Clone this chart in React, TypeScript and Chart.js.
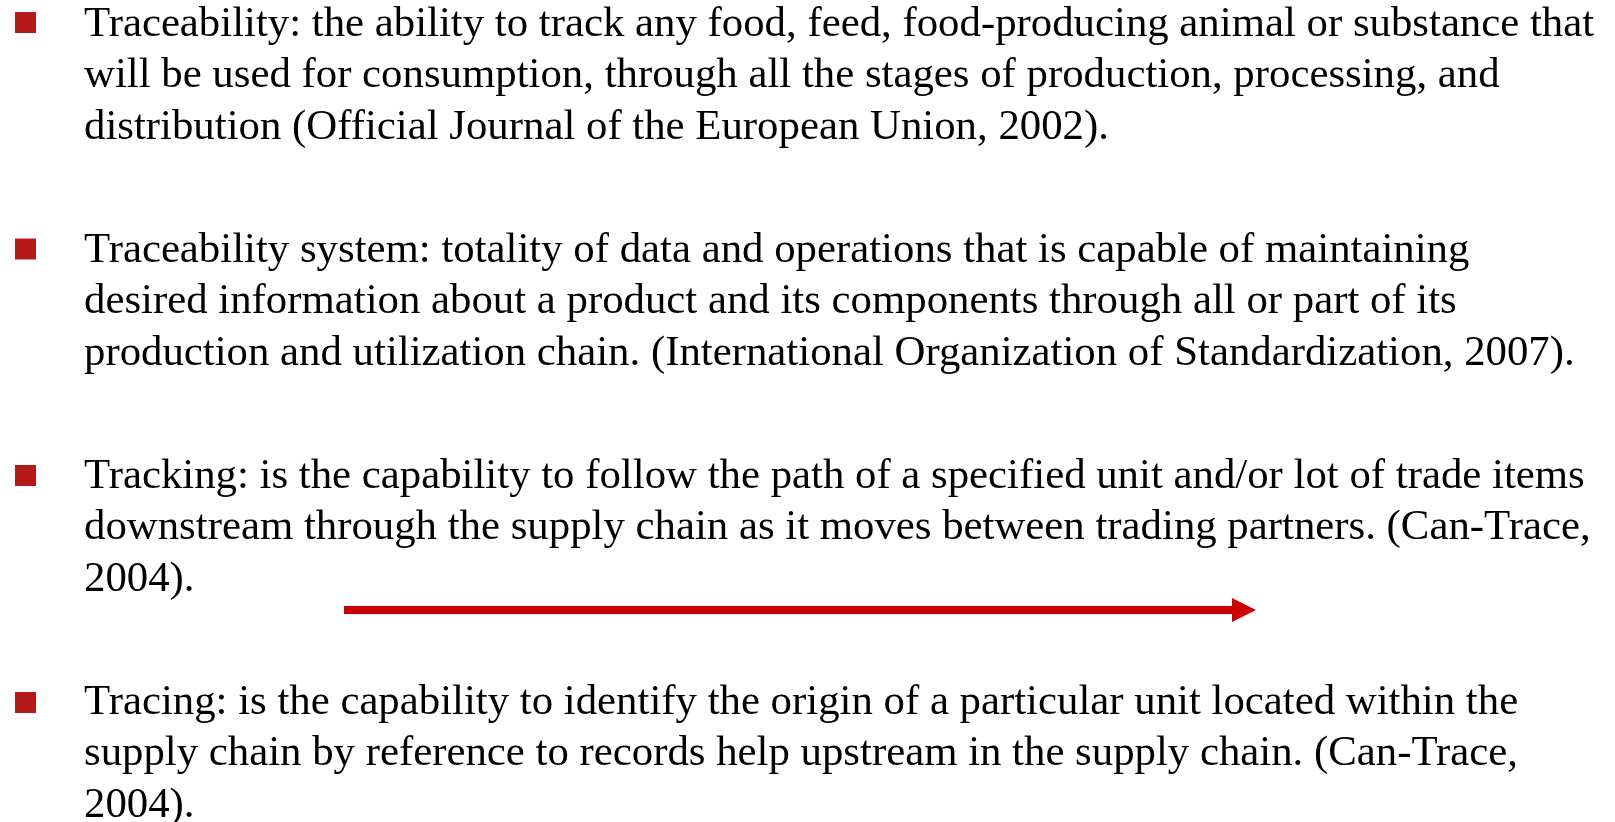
import React, { useEffect, useRef } from "react";
import { Chart, registerables } from "chart.js";

Chart.register(...registerables);

// ---- data ----
const blockTexts: string[][] = [
  [
    "Traceability: the ability to track any food, feed, food-producing animal or substance that",
    "will be used for consumption, through all the stages of production, processing, and",
    "distribution (Official Journal of the European Union, 2002).",
  ],
  [
    "Traceability system: totality of data and operations that is capable of maintaining",
    "desired information about a product and its components through all or part of its",
    "production and utilization chain. (International Organization of Standardization, 2007).",
  ],
  [
    "Tracking: is the capability to follow the path of a specified unit and/or lot of trade items",
    "downstream through the supply chain as it moves between trading partners. (Can-Trace,",
    "2004).",
  ],
  [
    "Tracing: is the capability to identify the origin of a particular unit located within the",
    "supply chain by reference to records help upstream in the supply chain. (Can-Trace,",
    "2004).",
  ],
];
const bulletX: number[] = [25.5, 25.5, 25.5, 25.5];
const bulletY: number[] = [22.5, 249, 475.5, 702.5];
const firstBaselines: number[] = [36, 262, 488, 714];
const arrowX: number[] = [344, 1256];
const arrowY: number[] = [610, 610];

const W = 1615;
const H = 822;
const FONT = 42.8;
const LINE = 51.5;
const TEXT_LEFT = 84;
const BULLET_SIDE = 21;
const BULLET_RADIUS = BULLET_SIDE / Math.SQRT2;
const HEAD_LEN = 24;
const HEAD_HALF = 12;
const SHAFT_WIDTH = 8;
const BULLET_COLOR = "#B41A1A";
const ARROW_COLOR = "#CC0000";

const arrowHeadPlugin = {
  id: "arrowHead",
  afterDatasetsDraw(chart: any) {
    const meta = chart.getDatasetMeta(1);
    if (!meta || !meta.data || meta.data.length < 2) return;
    const p0 = meta.data[0];
    const p1 = meta.data[meta.data.length - 1];
    const ang = Math.atan2(p1.y - p0.y, p1.x - p0.x);
    const ctx = chart.ctx;
    ctx.save();
    ctx.translate(p1.x, p1.y);
    ctx.rotate(ang);
    ctx.fillStyle = ARROW_COLOR;
    ctx.beginPath();
    ctx.moveTo(0, 0);
    ctx.lineTo(-HEAD_LEN, -HEAD_HALF);
    ctx.lineTo(-HEAD_LEN, HEAD_HALF);
    ctx.closePath();
    ctx.fill();
    ctx.restore();
  },
};

export default function App() {
  const ref = useRef<HTMLCanvasElement | null>(null);

  useEffect(() => {
    document.body.style.margin = "0";
    if (!ref.current) return;
    // Chart.js reserves padding equal to the largest point overflow; offset scales so
    // that values map 1:1 to page pixels.
    const P = Math.max(BULLET_RADIUS, SHAFT_WIDTH / 2);
    const chart = new Chart(ref.current, {
      type: "scatter",
      data: {
        datasets: [
          {
            label: "bullets",
            data: bulletX.map((x, i) => ({ x, y: bulletY[i] })),
            pointStyle: "rect",
            pointRadius: BULLET_RADIUS,
            pointHoverRadius: 0,
            pointBackgroundColor: BULLET_COLOR,
            pointBorderWidth: 0,
            pointBorderColor: BULLET_COLOR,
            showLine: false,
            clip: false,
          } as any,
          {
            label: "arrow",
            data: [
              { x: arrowX[0], y: arrowY[0] },
              { x: arrowX[1] - HEAD_LEN + 1, y: arrowY[1] },
              { x: arrowX[1], y: arrowY[1] },
            ],
            showLine: true,
            borderColor: ARROW_COLOR,
            borderWidth: SHAFT_WIDTH,
            borderCapStyle: "butt",
            pointRadius: 0,
            pointHoverRadius: 0,
            fill: false,
            clip: false,
            segment: {
              borderColor: (c: any) => (c.p1DataIndex === 2 ? "rgba(0,0,0,0)" : ARROW_COLOR),
            },
          } as any,
        ],
      },
      options: {
        animation: false,
        responsive: false,
        maintainAspectRatio: false,
        layout: { padding: 0 },
        plugins: {
          legend: { display: false },
          tooltip: { enabled: false },
          title: { display: false },
        },
        events: [],
        scales: {
          x: { type: "linear", min: P, max: W - P, display: false },
          y: { type: "linear", min: P, max: H - P, reverse: true, display: false },
        },
      },
      plugins: [arrowHeadPlugin],
    });
    return () => chart.destroy();
  }, []);

  const baselineOffset = (LINE - 1.107 * FONT) / 2 + 0.891 * FONT;

  return (
    <div style={{ position: "fixed", left: 0, top: 0, width: W, height: H, background: "#fff" }}>
      <canvas ref={ref} width={W} height={H} style={{ position: "absolute", left: 0, top: 0, width: W, height: H }} />
      {blockTexts.map((lines, i) => (
        <div
          key={i}
          style={{
            position: "absolute",
            left: TEXT_LEFT,
            top: firstBaselines[i] - baselineOffset,
            fontFamily: '"Liberation Serif", "Times New Roman", serif',
            fontSize: FONT,
            lineHeight: LINE + "px",
            color: "#000",
            whiteSpace: "nowrap",
          }}
        >
          {lines.map((l, j) => (
            <div key={j}>{l}</div>
          ))}
        </div>
      ))}
    </div>
  );
}
